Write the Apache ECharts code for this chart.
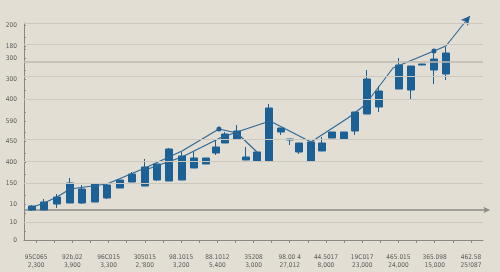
<!DOCTYPE html>
<html><head><meta charset="utf-8">
<script src="https://cdn.jsdelivr.net/npm/echarts@6/dist/echarts.min.js"></script>
<style>html,body{margin:0;padding:0;background:#e3ded4}#c{width:500px;height:272px}</style>
</head><body><div id="c"></div>
<script>
// x-axis tick labels (two lines each)
const xLabelTop = ['95C065','92b,02','96C015','305015','98.1015','88.1012','35208','98.00 4','44.5017','19C017','465.015','365.098','462.58'];
const xLabelBottom = ['2,300','3,900','3,300','2,\'800','3,200','5,400','3,000','27,012','8,000','23,000','24,000','15,000','25!087'];
const xLabelPos = [1,4,7,10,13,16,19,22,25,28,31,34,37];
// y-axis tick labels
const yLabelPos = [0,18,36,57,78,99,119,141,161,182,194,215];
const yLabels = ['0','10','10','150','400','450','590','400','300','300','180','200'];
const gridVals = [217,196,164,141,101,79,57,18];
const gridStrong = [178];
const baseLineY = 30;
// candles: position, open, close, low, high
const candleX    = [0.66,1.66,2.73,3.81,4.80,5.88,6.87,7.95,8.94,10.02,11.01,12.00,13.08,14.07,15.07,15.89,16.64,17.63,18.38,19.29,20.28,21.27,22.02,22.77,23.76,24.67,25.50,26.49,27.40,28.39,29.39,31.04,32.04,32.95,33.94,34.93];
const candleOpen = [30,30,36,37,37,38,42,52,58,54,60,59,60,72,76,87,97,101,80,79,79,108,100,88,79,89,102,101,109,126,133,151,174,175,170,166];
const candleClose= [34,38,43,57,51,56,55,60,66,73,76,91,84,82,82,93,106,109,83,88,132,112,101,97,98,97,108,108,128,161,149,175,150,176,181,187];
const candleLow  = [29,30,32,37,36,38,41,52,58,54,59,59,60,72,76,85,97,101,80,79,79,105,95,86,79,89,102,101,105,126,128,151,141,175,156,160];
const candleHigh = [35,41,46,62,55,56,57,60,68,81,76,92,88,89,82,101,108,115,93,88,136,112,101,97,99,103,108,108,128,170,154,182,174,176,188,193];
// trend lines
const line1X = [0.5,1.66,2.73,3.81,6.87,10.02,13.08,16.14,17.63,19.29];
const line1Y = [32,37,43,51,56,72,89,111,107,88];
const line2X = [10.02,13.08,16.23,17.88,20.36,23.76,26.82,28.23,30.55,33.94,34.93,36.92];
const line2Y = [70,83,102,109,119,98,122,135,172,189,194,224];
const dot1Index = 7, dot2Index = 9;

const BLUE = '#1c6196';
const chart = echarts.init(document.getElementById('c'));
const candleData = candleX.map((x,i)=>[x,candleOpen[i],candleClose[i],candleLow[i],candleHigh[i]]);
function lineData(xs, ys, dotIdx){
  return xs.map((x,i)=>{
    const it = {value:[x,ys[i]]};
    if(i===dotIdx){ it.symbol='circle'; it.symbolSize=5; }
    return it;
  });
}
const l1 = lineData(line1X,line1Y,dot1Index);
const l2 = lineData(line2X,line2Y,dot2Index);
const base = [{value:[0,baseLineY]},{value:[38.6,baseLineY],symbol:'arrow',symbolSize:[5,7],symbolRotate:-90}];
const labelFont = {fontFamily:'DejaVu Sans Condensed, DejaVu Sans', fontSize:6.5, color:'#5a5a5a'};

function build(rot){
  l2[l2.length-1].symbol='arrow';
  l2[l2.length-1].symbolSize=[7,9];
  l2[l2.length-1].symbolRotate=rot;
  return {
    backgroundColor:'#e3ded4',
    animation:false,
    grid:{left:24,right:17,top:23,bottom:32},
    xAxis:{type:'value',min:0,max:38,
      axisLine:{show:true,lineStyle:{color:'#8a8884',width:1}},
      axisTick:{show:true,length:3,inside:false,lineStyle:{color:'#8a8884'},
        customValues:xLabelPos.concat(xLabelPos.map(v=>v+1.5))},
      splitLine:{show:false},
      axisLabel:Object.assign({customValues:xLabelPos,margin:13,lineHeight:8,
        formatter:v=>{const i=xLabelPos.indexOf(Math.round(v));return i<0?'':xLabelTop[i]+'\n'+xLabelBottom[i];}},labelFont)},
    yAxis:{type:'value',min:0,max:217,
      axisLine:{show:true,lineStyle:{color:'#8a8884',width:1}},
      axisTick:{show:true,length:2,inside:true,lineStyle:{color:'#8a8884'},
        customValues:yLabelPos.concat(yLabelPos.map(v=>v+9))},
      splitLine:{show:false},
      axisLabel:Object.assign({customValues:yLabelPos,margin:7,
        formatter:v=>{const i=yLabelPos.indexOf(Math.round(v));return i<0?'':yLabels[i];}},labelFont)},
    series:[
      {type:'line',data:[],silent:true,z:1,
        markLine:{silent:true,symbol:'none',label:{show:false},animation:false,
          data:gridVals.map(v=>({yAxis:v,lineStyle:{color:'#cdc8be',width:1,type:'solid'}}))
            .concat(gridStrong.map(v=>({yAxis:v,lineStyle:{color:'#bfbab0',width:1.6,type:'solid'}})))}},
      {type:'line',data:base,clip:false,silent:true,z:2,symbol:'none',showSymbol:true,
        lineStyle:{color:'#8d8b87',width:1.3},itemStyle:{color:'#8d8b87'}},
      {type:'candlestick',data:candleData,encode:{x:0,y:[1,2,3,4]},barWidth:7,z:3,
        itemStyle:{color:BLUE,color0:BLUE,borderColor:BLUE,borderColor0:BLUE,borderWidth:1}},
      {type:'line',data:l1,z:4,symbol:'none',showSymbol:true,lineStyle:{color:'#2a6797',width:1.1},itemStyle:{color:'#1f5f92'}},
      {type:'line',data:l2,z:4,clip:false,symbol:'none',showSymbol:true,lineStyle:{color:'#2a6797',width:1.1},itemStyle:{color:'#1f5f92'}}
    ]
  };
}
chart.setOption(build(0));
const n=line2X.length;
const p1=chart.convertToPixel({gridIndex:0},[line2X[n-2],line2Y[n-2]]);
const p2=chart.convertToPixel({gridIndex:0},[line2X[n-1],line2Y[n-1]]);
const ang=Math.atan2(-(p2[1]-p1[1]),p2[0]-p1[0])*180/Math.PI;
chart.setOption(build(ang-90));
</script></body></html>
